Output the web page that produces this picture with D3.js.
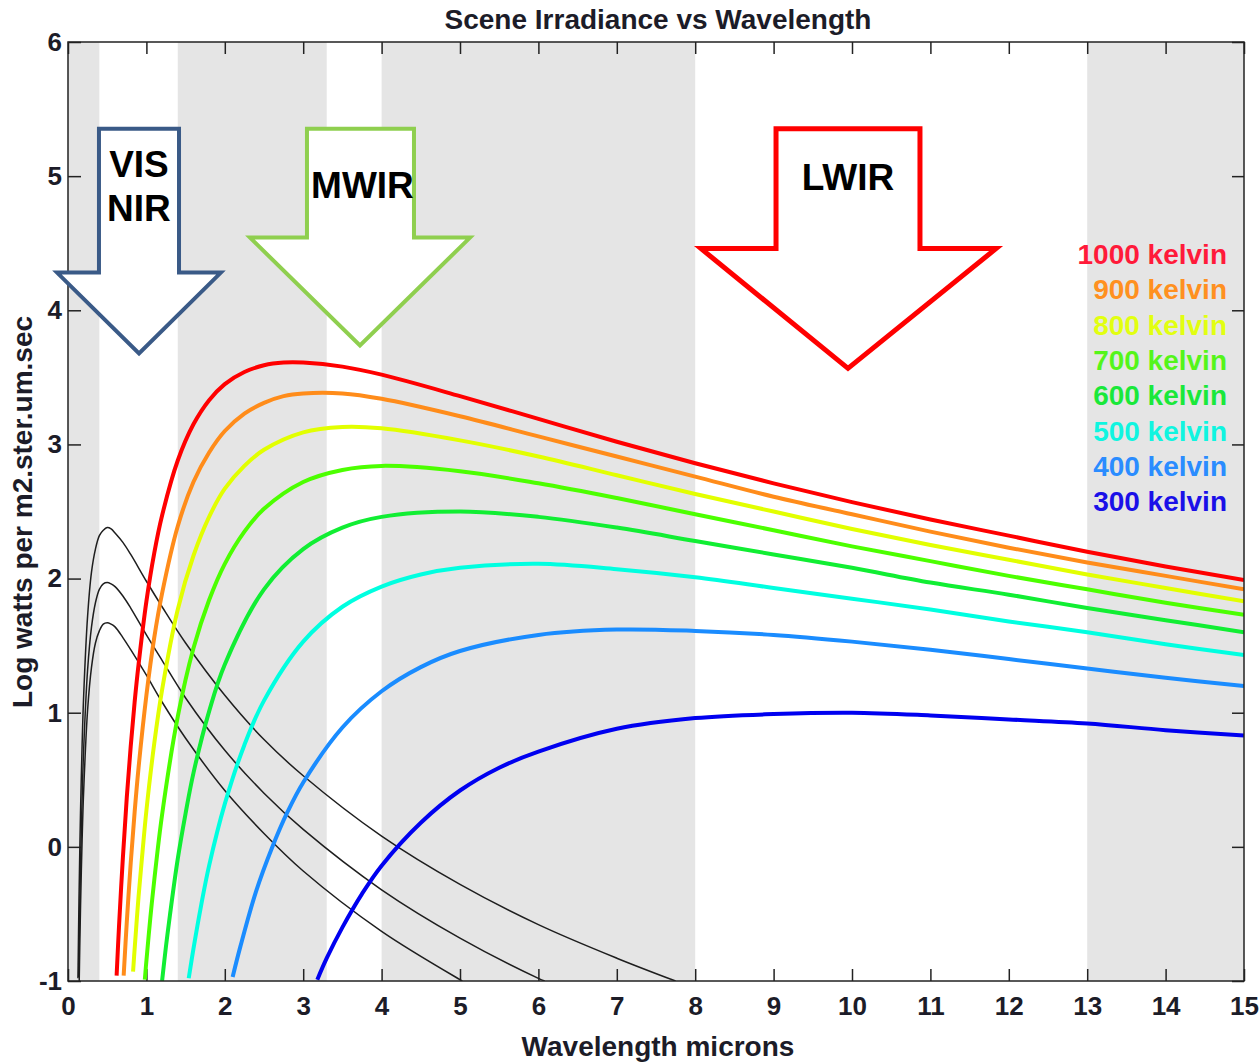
<!DOCTYPE html>
<html>
<head>
<meta charset="utf-8">
<script src="https://cdn.jsdelivr.net/npm/d3@7"></script>
<style>
  body { margin: 0; background: #fff; }
  text { font-family: "Liberation Sans", Arial, sans-serif; font-weight: bold; }
</style>
</head>
<body>
<div class="mainWrapper"></div>
<script>
// shaded wavelength bands (microns)
var bands = [[0, 0.4], [1.4, 3.3], [4, 8], [13, 15]];

// [wavelength, log radiance]
var k1000 = [[0.62,-0.96],[0.65,-0.60],[0.7,-0.08],[0.75,0.37],[0.8,0.75],[0.85,1.08],[0.9,1.36],[1.0,1.83],[1.1,2.19],[1.2,2.47],[1.4,2.88],[1.6,3.15],[1.8,3.33],[2.0,3.45],[2.25,3.54],[2.5,3.59],[2.75,3.61],[3.0,3.61],[3.5,3.58],[4,3.52],[5,3.36],[6,3.19],[7,3.02],[8,2.86],[9,2.71],[10,2.57],[11,2.44],[12,2.32],[13,2.20],[14,2.09],[15,1.99]];
var k900 = [[0.71,-0.96],[0.75,-0.56],[0.8,-0.12],[0.85,0.26],[0.9,0.59],[1.0,1.13],[1.1,1.56],[1.2,1.89],[1.4,2.39],[1.6,2.72],[1.8,2.94],[2.0,3.10],[2.25,3.23],[2.5,3.31],[2.75,3.36],[3.0,3.38],[3.5,3.38],[4,3.34],[5,3.21],[6,3.06],[7,2.91],[8,2.76],[9,2.61],[10,2.48],[11,2.35],[12,2.23],[13,2.12],[14,2.02],[15,1.92]];
var k800 = [[0.83,-0.93],[0.85,-0.76],[0.9,-0.37],[0.95,-0.04],[1.0,0.27],[1.1,0.77],[1.2,1.17],[1.4,1.77],[1.6,2.17],[1.8,2.46],[2.0,2.67],[2.25,2.84],[2.5,2.96],[3.0,3.09],[3.5,3.13],[4,3.12],[5,3.03],[6,2.91],[7,2.77],[8,2.63],[9,2.50],[10,2.37],[11,2.25],[12,2.14],[13,2.03],[14,1.93],[15,1.83]];
var k700 = [[0.98,-0.99],[1.0,-0.85],[1.05,-0.53],[1.1,-0.25],[1.2,0.24],[1.4,0.97],[1.6,1.48],[1.8,1.84],[2.0,2.11],[2.25,2.35],[2.5,2.52],[3.0,2.72],[3.5,2.81],[4,2.84],[5,2.80],[6,2.71],[7,2.60],[8,2.48],[9,2.36],[10,2.24],[11,2.13],[12,2.02],[13,1.92],[14,1.82],[15,1.73]];
var k600 = [[1.2,-1.0],[1.25,-0.74],[1.3,-0.51],[1.4,-0.09],[1.5,0.25],[1.6,0.55],[1.8,1.01],[2.0,1.36],[2.5,1.92],[3.0,2.22],[3.5,2.38],[4,2.46],[5,2.50],[6,2.46],[7,2.38],[8,2.28],[9,2.18],[10,2.08],[11,1.97],[12,1.88],[13,1.78],[14,1.69],[15,1.60]];
var k500 = [[1.54,-0.98],[1.6,-0.76],[1.7,-0.43],[1.8,-0.14],[2.0,0.32],[2.25,0.76],[2.5,1.09],[3.0,1.53],[3.5,1.79],[4,1.94],[4.5,2.03],[5,2.08],[6,2.11],[7,2.07],[8,2.01],[9,1.93],[10,1.85],[11,1.77],[12,1.68],[13,1.60],[14,1.51],[15,1.43]];
var k400 = [[2.1,-0.97],[2.2,-0.74],[2.4,-0.33],[2.6,-0.01],[2.8,0.26],[3.0,0.48],[3.5,0.89],[4,1.16],[4.5,1.34],[5,1.46],[6,1.58],[7,1.62],[8,1.61],[9,1.58],[10,1.53],[11,1.47],[12,1.40],[13,1.33],[14,1.26],[15,1.20]];
var k300 = [[3.18,-0.99],[3.3,-0.83],[3.5,-0.60],[3.75,-0.35],[4,-0.14],[4.5,0.18],[5,0.42],[5.5,0.59],[6,0.71],[7,0.88],[8,0.96],[9,0.99],[10,1.0],[11,0.98],[12,0.95],[13,0.92],[14,0.87],[15,0.83]];

// the three thin black (solar) curves
var sunHigh = [[0.127,-0.98],[0.13,-0.84],[0.14,-0.40],[0.15,-0.04],[0.16,0.27],[0.18,0.76],[0.2,1.13],[0.25,1.72],[0.3,2.05],[0.35,2.22],[0.4,2.32],[0.45,2.36],[0.5,2.38],[0.55,2.37],[0.6,2.34],[0.7,2.27],[0.8,2.18],[1.0,1.98],[1.2,1.79],[1.5,1.52],[2.0,1.13],[2.5,0.80],[3.0,0.53],[4,0.08],[5,-0.28],[6,-0.58],[7,-0.83],[7.75,-1.0]];
var sunMid = [[0.136,-0.97],[0.14,-0.81],[0.15,-0.44],[0.16,-0.13],[0.18,0.36],[0.2,0.73],[0.25,1.32],[0.3,1.64],[0.35,1.82],[0.4,1.92],[0.45,1.96],[0.5,1.97],[0.55,1.96],[0.6,1.94],[0.7,1.87],[0.8,1.78],[1.0,1.58],[1.2,1.39],[1.5,1.11],[2.0,0.72],[2.5,0.40],[3.0,0.13],[4,-0.32],[5,-0.68],[6,-0.98],[6.08,-1.0]];
var sunLow = [[0.143,-1.0],[0.15,-0.75],[0.16,-0.44],[0.18,0.05],[0.2,0.42],[0.25,1.02],[0.3,1.34],[0.35,1.52],[0.4,1.61],[0.45,1.66],[0.5,1.67],[0.55,1.66],[0.6,1.64],[0.7,1.56],[0.8,1.47],[1.0,1.28],[1.2,1.08],[1.5,0.81],[2.0,0.42],[2.5,0.10],[3.0,-0.18],[4,-0.63],[5,-0.99],[5.03,-1.0]];

var labels = ["1000 kelvin", "900 kelvin", "800 kelvin", "700 kelvin", "600 kelvin", "500 kelvin", "400 kelvin", "300 kelvin"];
var curves = [k1000, k900, k800, k700, k600, k500, k400, k300];
var colors = ["#ff0000", "#ff8c1a", "#e2ff00", "#4cff00", "#11ee33", "#00ffe0", "#1a8cff", "#0000f0"];
var labelColors = ["#ff1a3a", "#ff9020", "#e2ff10", "#55f51a", "#1ae83a", "#10f5e0", "#2a8cff", "#1a10e8"];

var xTicks = d3.range(0, 16);
var yTicks = d3.range(-1, 7);

// band arrows in data units
var arrows = [
  {name: ["VIS", "NIR"], color: "#3a5a87", w: 4, pts: [[0.395,5.354],[1.416,5.354],[1.416,4.281],[1.95,4.281],[0.906,3.678],[-0.14,4.281],[0.395,4.281]]},
  {name: ["MWIR"], color: "#8fcf4f", w: 4, pts: [[3.048,5.354],[4.413,5.354],[4.413,4.542],[5.128,4.542],[3.724,3.738],[2.321,4.542],[3.048,4.542]]},
  {name: ["LWIR"], color: "#ff0000", w: 5, pts: [[9.031,5.354],[10.867,5.354],[10.867,4.460],[11.837,4.460],[9.949,3.567],[8.074,4.460],[9.031,4.460]]}
];

var margin = {top: 42, right: 16, bottom: 82, left: 68},
    width = 1176,
    height = 939;

var svg = d3.select(".mainWrapper")
  .append("svg")
    .attr("width", width + margin.left + margin.right)
    .attr("height", height + margin.top + margin.bottom)
  .append("g")
    .attr("transform", "translate(" + margin.left + "," + margin.top + ")");

var x = d3.scaleLinear().domain([0, 15]).range([0, width]);
var y = d3.scaleLinear().domain([-1, 6]).range([height, 0]);

svg.append("defs").append("clipPath").attr("id", "plotClip")
  .append("rect").attr("width", width).attr("height", height);

// grey bands
svg.selectAll(".band")
  .data(bands)
  .enter()
  .append("rect")
    .attr("x", function(d) { return x(d[0]); })
    .attr("y", 0)
    .attr("width", function(d) { return x(d[1]) - x(d[0]); })
    .attr("height", height)
    .attr("fill", "#e5e5e5");

// axes, ticks pointing inward
function styleAxis(g) {
  g.select(".domain").remove();
  g.selectAll(".tick line").attr("stroke", "#222").attr("stroke-width", 1.5);
  g.selectAll(".tick text").attr("fill", "#1c1c28").style("font-size", "26px");
}
var plain = function(d) { return String(d); };

svg.append("g")
  .attr("transform", "translate(0," + height + ")")
  .call(d3.axisBottom(x).tickValues(xTicks).tickSizeInner(-12).tickSizeOuter(0).tickPadding(16).tickFormat(plain))
  .call(styleAxis);

svg.append("g")
  .call(d3.axisTop(x).tickValues(xTicks).tickSizeInner(-12).tickSizeOuter(0).tickFormat(""))
  .call(styleAxis);

svg.append("g")
  .call(d3.axisLeft(y).tickValues(yTicks).tickSizeInner(-13).tickSizeOuter(0).tickPadding(6).tickFormat(plain))
  .call(styleAxis);

svg.append("g")
  .attr("transform", "translate(" + width + ",0)")
  .call(d3.axisRight(y).tickValues(yTicks).tickSizeInner(-12).tickSizeOuter(0).tickFormat(""))
  .call(styleAxis);

var line = d3.line()
  .x(function(d) { return x(d[0]); })
  .y(function(d) { return y(d[1]); })
  .curve(d3.curveCatmullRom.alpha(0.5));

var plot = svg.append("g").attr("clip-path", "url(#plotClip)");

plot.selectAll(".sun")
  .data([sunHigh, sunMid, sunLow])
  .enter()
  .append("path")
    .attr("fill", "none")
    .attr("stroke", "#1e1e1e")
    .attr("stroke-width", 1.5)
    .attr("d", line);

plot.selectAll(".kelvin")
  .data(curves)
  .enter()
  .append("path")
    .attr("fill", "none")
    .attr("stroke", function(d, i) { return colors[i]; })
    .attr("stroke-width", 4)
    .attr("d", line);

// box
svg.append("rect")
  .attr("width", width)
  .attr("height", height)
  .attr("fill", "none")
  .attr("stroke", "#222")
  .attr("stroke-width", 1.5);

// arrows
var arrowLine = d3.line()
  .x(function(d) { return x(d[0]); })
  .y(function(d) { return y(d[1]); });

arrows.forEach(function(a) {
  svg.append("path")
    .attr("d", arrowLine(a.pts) + "Z")
    .attr("fill", "#fff")
    .attr("stroke", a.color)
    .attr("stroke-width", a.w)
    .attr("stroke-linejoin", "miter");
});

var cx = function(a) { return (x(a.pts[0][0]) + x(a.pts[1][0])) / 2; };
svg.append("text").attr("x", cx(arrows[0])).attr("y", 135).attr("text-anchor", "middle")
  .style("font-size", "37px").attr("fill", "#000").text("VIS");
svg.append("text").attr("x", cx(arrows[0])).attr("y", 179).attr("text-anchor", "middle")
  .style("font-size", "37px").attr("fill", "#000").text("NIR");
svg.append("text").attr("x", cx(arrows[1]) + 2).attr("y", 156).attr("text-anchor", "middle")
  .style("font-size", "37px").attr("fill", "#000").text("MWIR");
svg.append("text").attr("x", cx(arrows[2])).attr("y", 148).attr("text-anchor", "middle")
  .style("font-size", "37px").attr("fill", "#000").text("LWIR");

// legend
svg.selectAll(".legend")
  .data(labels)
  .enter()
  .append("text")
    .attr("x", 1159)
    .attr("y", function(d, i) { return 222 + i * 35.3; })
    .attr("text-anchor", "end")
    .attr("fill", function(d, i) { return labelColors[i]; })
    .style("font-size", "28px")
    .text(function(d) { return d; });

// titles
svg.append("text")
  .attr("x", width / 2 + 2)
  .attr("y", -13)
  .attr("text-anchor", "middle")
  .attr("fill", "#1c1c28")
  .style("font-size", "28px")
  .text("Scene Irradiance vs Wavelength");

svg.append("text")
  .attr("x", width / 2 + 2)
  .attr("y", height + 75)
  .attr("text-anchor", "middle")
  .attr("fill", "#1c1c28")
  .style("font-size", "28px")
  .text("Wavelength microns");

svg.append("text")
  .attr("transform", "rotate(-90)")
  .attr("x", -470)
  .attr("y", -36)
  .attr("text-anchor", "middle")
  .attr("fill", "#1c1c28")
  .style("font-size", "28px")
  .text("Log watts per m2.ster.um.sec");
</script>
</body>
</html>
